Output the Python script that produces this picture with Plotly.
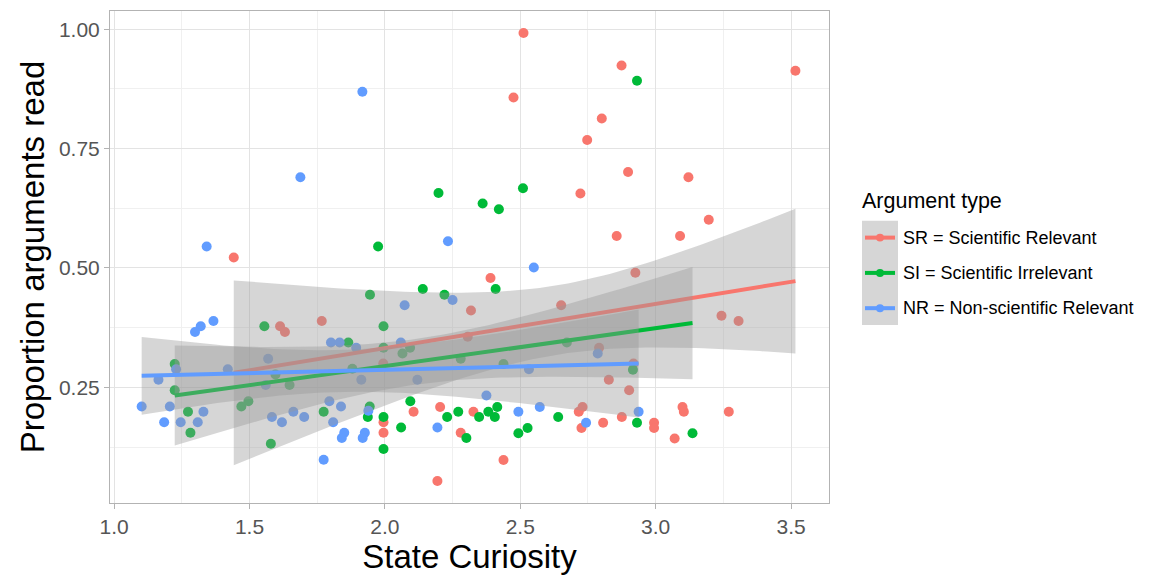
import numpy as np
import plotly.graph_objects as go

# ---- data: state curiosity (x) vs proportion of arguments read (y) ----
sr_x = [2.512, 2.874, 3.516, 2.475, 2.801, 2.747, 2.898, 3.121, 2.722, 3.196,
        2.856, 3.090, 1.442, 2.925, 2.390, 2.651, 2.318, 3.243, 3.306, 1.767,
        1.613, 1.631, 2.306, 2.791, 1.994, 2.918, 2.827, 2.902, 2.730, 2.716,
        2.204, 2.106, 2.327, 2.875, 3.099, 3.104, 3.270, 1.995, 1.995, 2.280,
        2.726, 2.806, 2.994, 2.994, 3.070, 2.438, 2.194]
sr_y = [0.992, 0.924, 0.913, 0.857, 0.813, 0.768, 0.701, 0.690, 0.656, 0.601,
        0.567, 0.567, 0.522, 0.490, 0.479, 0.422, 0.411, 0.400, 0.389, 0.389,
        0.378, 0.366, 0.356, 0.333, 0.300, 0.300, 0.266, 0.244, 0.209, 0.199,
        0.209, 0.199, 0.199, 0.188, 0.209, 0.199, 0.199, 0.177, 0.155, 0.155,
        0.165, 0.176, 0.176, 0.165, 0.143, 0.098, 0.054]

si_x = [2.931, 2.510, 2.198, 2.361, 2.421, 1.975, 2.409, 2.140, 1.945, 2.220,
        1.555, 1.995, 1.865, 1.995, 2.093, 2.065, 2.672, 2.280, 1.224, 2.438,
        1.880, 2.916, 1.596, 1.648, 1.224, 1.470, 1.496, 1.273, 1.282, 1.579,
        1.774, 1.944, 1.937, 1.995, 1.995, 2.060, 2.094, 2.230, 2.271, 2.301,
        2.348, 2.382, 2.406, 2.415, 2.493, 2.527, 2.640, 2.931, 3.136]
si_y = [0.892, 0.667, 0.657, 0.635, 0.623, 0.545, 0.456, 0.456, 0.444, 0.444,
        0.378, 0.378, 0.344, 0.333, 0.333, 0.321, 0.344, 0.310, 0.299, 0.299,
        0.289, 0.287, 0.277, 0.255, 0.244, 0.210, 0.221, 0.199, 0.155, 0.132,
        0.199, 0.210, 0.188, 0.188, 0.121, 0.166, 0.221, 0.188, 0.199, 0.144,
        0.188, 0.199, 0.188, 0.209, 0.154, 0.165, 0.188, 0.176, 0.154]

nr_x = [1.917, 1.688, 2.233, 1.342, 2.550, 2.250, 2.073, 1.367, 1.320, 1.299,
        1.801, 1.833, 1.894, 2.059, 1.569, 2.786, 1.229, 1.420, 2.532, 1.164,
        1.913, 2.120, 1.560, 2.375, 1.102, 1.206, 1.330, 1.185, 1.246, 1.309,
        1.583, 1.620, 1.662, 1.702, 1.795, 1.838, 1.809, 1.850, 1.841, 1.926,
        1.918, 1.774, 1.939, 2.194, 2.493, 2.572, 2.743, 2.937]
nr_y = [0.869, 0.690, 0.556, 0.545, 0.501, 0.433, 0.422, 0.389, 0.378, 0.366,
        0.344, 0.344, 0.333, 0.344, 0.310, 0.321, 0.288, 0.288, 0.288, 0.266,
        0.266, 0.266, 0.255, 0.233, 0.210, 0.210, 0.199, 0.177, 0.177, 0.177,
        0.188, 0.177, 0.199, 0.188, 0.221, 0.210, 0.177, 0.155, 0.144, 0.155,
        0.144, 0.0985, 0.201, 0.166, 0.199, 0.209, 0.176, 0.199]

group_names = ["SR = Scientific Relevant", "SI = Scientific Irrelevant",
               "NR = Non-scientific Relevant"]
group_colors = ["#F8766D", "#00BA38", "#619CFF"]
groups = [(sr_x, sr_y), (si_x, si_y), (nr_x, nr_y)]

x_ticks = [1.0, 1.5, 2.0, 2.5, 3.0, 3.5]
y_ticks = [0.25, 0.50, 0.75, 1.00]

T_975 = 2.013  # two-sided 95% t quantile for ~46 residual df
FONT = "Arial, Liberation Sans, sans-serif"


def lm_fit(x, y, n=80):
    """Linear fit with 95% confidence band, like geom_smooth(method='lm')."""
    x = np.asarray(x, float)
    y = np.asarray(y, float)
    slope, icpt = np.polyfit(x, y, 1)
    resid = y - (icpt + slope * x)
    s = np.sqrt(np.sum(resid ** 2) / (len(x) - 2))
    sxx = np.sum((x - x.mean()) ** 2)
    xs = np.linspace(x.min(), x.max(), n)
    fit = icpt + slope * xs
    se = s * np.sqrt(1 / len(x) + (xs - x.mean()) ** 2 / sxx)
    return xs, fit, fit - T_975 * se, fit + T_975 * se


fig = go.Figure()

# points first, so the ribbons sit on top of them
for (gx, gy), name, col in zip(groups, group_names, group_colors):
    fig.add_trace(go.Scatter(x=gx, y=gy, mode="markers", name=name,
                             marker=dict(color=col, size=10, line=dict(width=0)),
                             showlegend=False, hoverinfo="x+y"))

# ribbon + fitted line per group
for (gx, gy), name, col in zip(groups, group_names, group_colors):
    xs, fit, lo, hi = lm_fit(gx, gy)
    fig.add_trace(go.Scatter(x=xs, y=hi, mode="lines", line=dict(width=0),
                             showlegend=False, hoverinfo="skip"))
    fig.add_trace(go.Scatter(x=xs, y=lo, mode="lines", line=dict(width=0),
                             fill="tonexty", fillcolor="rgba(153,153,153,0.4)",
                             showlegend=False, hoverinfo="skip"))
    fig.add_trace(go.Scatter(x=xs, y=fit, mode="lines",
                             line=dict(color=col, width=4),
                             showlegend=False, hoverinfo="skip"))

# ---- hand-built legend (grey key background, line + dot keys) ----
W, H = 1152, 575
L, R, T, B = 110, 829, 10, 505


def px(xp):
    return (xp - L) / (R - L)


def py(yp):
    return (B - yp) / (B - T)


shapes = [dict(type="rect", xref="paper", yref="paper",
               x0=px(862), x1=px(898), y0=py(326), y1=py(221),
               fillcolor="#d6d6d6", line=dict(width=0), layer="above")]
annotations = [dict(text="Argument type", xref="paper", yref="paper",
                    x=px(860), y=py(201), xanchor="left", yanchor="middle",
                    showarrow=False, font=dict(size=21.5, color="black", family=FONT))]
for i, (name, col) in enumerate(zip(group_names, group_colors)):
    yc = 238 + i * 35.5
    shapes.append(dict(type="line", xref="paper", yref="paper",
                       x0=px(865), x1=px(895), y0=py(yc), y1=py(yc),
                       line=dict(color=col, width=4), layer="above"))
    shapes.append(dict(type="circle", xref="paper", yref="paper",
                       x0=px(876), x1=px(884), y0=py(yc + 4), y1=py(yc - 4),
                       fillcolor=col, line=dict(width=0), layer="above"))
    annotations.append(dict(text=name, xref="paper", yref="paper",
                            x=px(901), y=py(yc), xanchor="left", yanchor="middle",
                            showarrow=False,
                            font=dict(size=18, color="black", family=FONT)))

grid_major = "#e3e3e3"
grid_minor = "#f0f0f0"

fig.update_layout(
    width=W, height=H,
    margin=dict(l=L, r=W - R, t=T, b=H - B),
    plot_bgcolor="white", paper_bgcolor="white",
    font=dict(family=FONT),
    shapes=shapes, annotations=annotations,
    showlegend=False,
    xaxis=dict(range=[0.985, 3.64], tickvals=x_ticks,
               ticktext=[f"{v:.1f}" for v in x_ticks],
               showgrid=True, gridcolor=grid_major, gridwidth=1,
               minor=dict(showgrid=True, gridcolor=grid_minor, dtick=0.25,
                          tick0=1.25, gridwidth=1),
               ticks="outside", ticklen=5, tickcolor="#b3b3b3",
               tickfont=dict(size=21, color="#555555"),
               title=dict(text="State Curiosity", standoff=4,
                          font=dict(size=33, color="black")),
               showline=True, linecolor="#b3b3b3", mirror=True,
               zeroline=False),
    yaxis=dict(range=[0.008, 1.038], tickvals=y_ticks,
               ticktext=[f"{v:.2f}" for v in y_ticks],
               showgrid=True, gridcolor=grid_major, gridwidth=1,
               minor=dict(showgrid=True, gridcolor=grid_minor, dtick=0.25,
                          tick0=0.125, gridwidth=1),
               ticks="outside", ticklen=5, tickcolor="#b3b3b3",
               tickfont=dict(size=21, color="#555555"),
               title=dict(text="Proportion arguments read", standoff=4,
                          font=dict(size=33, color="black")),
               showline=True, linecolor="#b3b3b3", mirror=True,
               zeroline=False),
)

fig.write_html("out.html")
